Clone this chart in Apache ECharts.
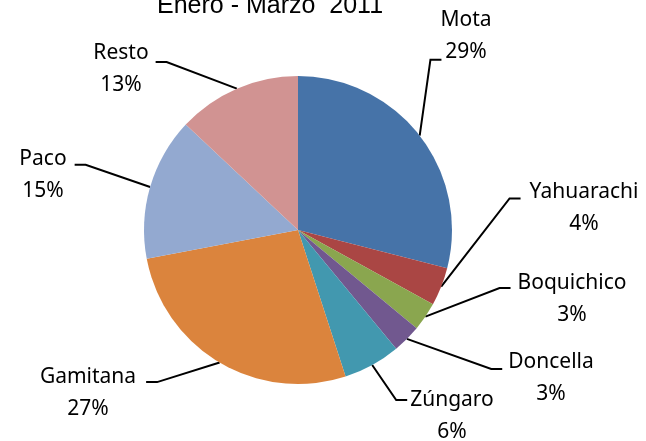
<!DOCTYPE html>
<html>
<head>
<meta charset="utf-8">
<script src="https://cdn.jsdelivr.net/npm/echarts@6/dist/echarts.min.js"></script>
<style>
html, body { margin: 0; padding: 0; background: #fff; }
#chart { width: 646px; height: 441px; }
</style>
</head>
<body>
<div id="chart"></div>
<script>
const names = ['Mota', 'Yahuarachi', 'Boquichico', 'Doncella', 'Zúngaro', 'Gamitana', 'Paco', 'Resto'];
const values = [29, 4, 3, 3, 6, 27, 15, 13];
const colors = ['#4673A8', '#AA4644', '#8AA64F', '#71588F', '#4298AF', '#DB843D', '#93A9D0', '#D19392'];

// where each label block sits (centre), and where its leader line meets it
const labelPos = [[466, 36], [584, 208], [572, 299], [551, 378], [452, 416], [88, 393], [43, 175], [121, 69]];
const lineFrac = [0.87, 0.35, 0.33, 0.36, 0.25, 0.33, 0.34, 0.39];
const lineGap = [-1, 9, 7, 6, 3, 10, 8, 7];

const chart = echarts.init(document.getElementById('chart'));
const cx = 298, cy = 230;

chart.setOption({
  animation: false,
  title: {
    text: 'Enero - Marzo  2011',
    left: 152,
    top: -11,
    textStyle: { fontFamily: 'Liberation Sans', fontSize: 25, fontWeight: 'normal', color: '#000' }
  },
  series: [{
    type: 'pie',
    center: [cx, cy],
    radius: 154,
    startAngle: 90,
    clockwise: true,
    percentPrecision: 0,
    avoidLabelOverlap: false,
    data: names.map((n, i) => ({ name: n, value: values[i], itemStyle: { color: colors[i] } })),
    label: {
      show: true,
      position: 'outside',
      formatter: '{b}\n{d}%',
      fontFamily: 'Noto Sans',
      fontSize: 21,
      lineHeight: 32,
      color: '#000'
    },
    labelLine: {
      show: true,
      length: 20,
      length2: 10,
      lineStyle: { color: '#000', width: 2 }
    },
    labelLayout: function (p) {
      const i = p.dataIndex;
      const pos = labelPos[i];
      const w = p.labelRect.width, h = p.labelRect.height;
      const onRight = pos[0] > cx;
      const top = pos[1] - h / 2;
      const ey = top + h * lineFrac[i];
      const ex = onRight ? pos[0] - w / 2 - lineGap[i] : pos[0] + w / 2 + lineGap[i];
      const bx = onRight ? ex - 11 : ex + 11;
      return {
        x: pos[0],
        y: pos[1],
        align: 'center',
        verticalAlign: 'middle',
        labelLinePoints: [p.labelLinePoints[0], [bx, ey], [ex, ey]]
      };
    }
  }]
});
</script>
</body>
</html>
